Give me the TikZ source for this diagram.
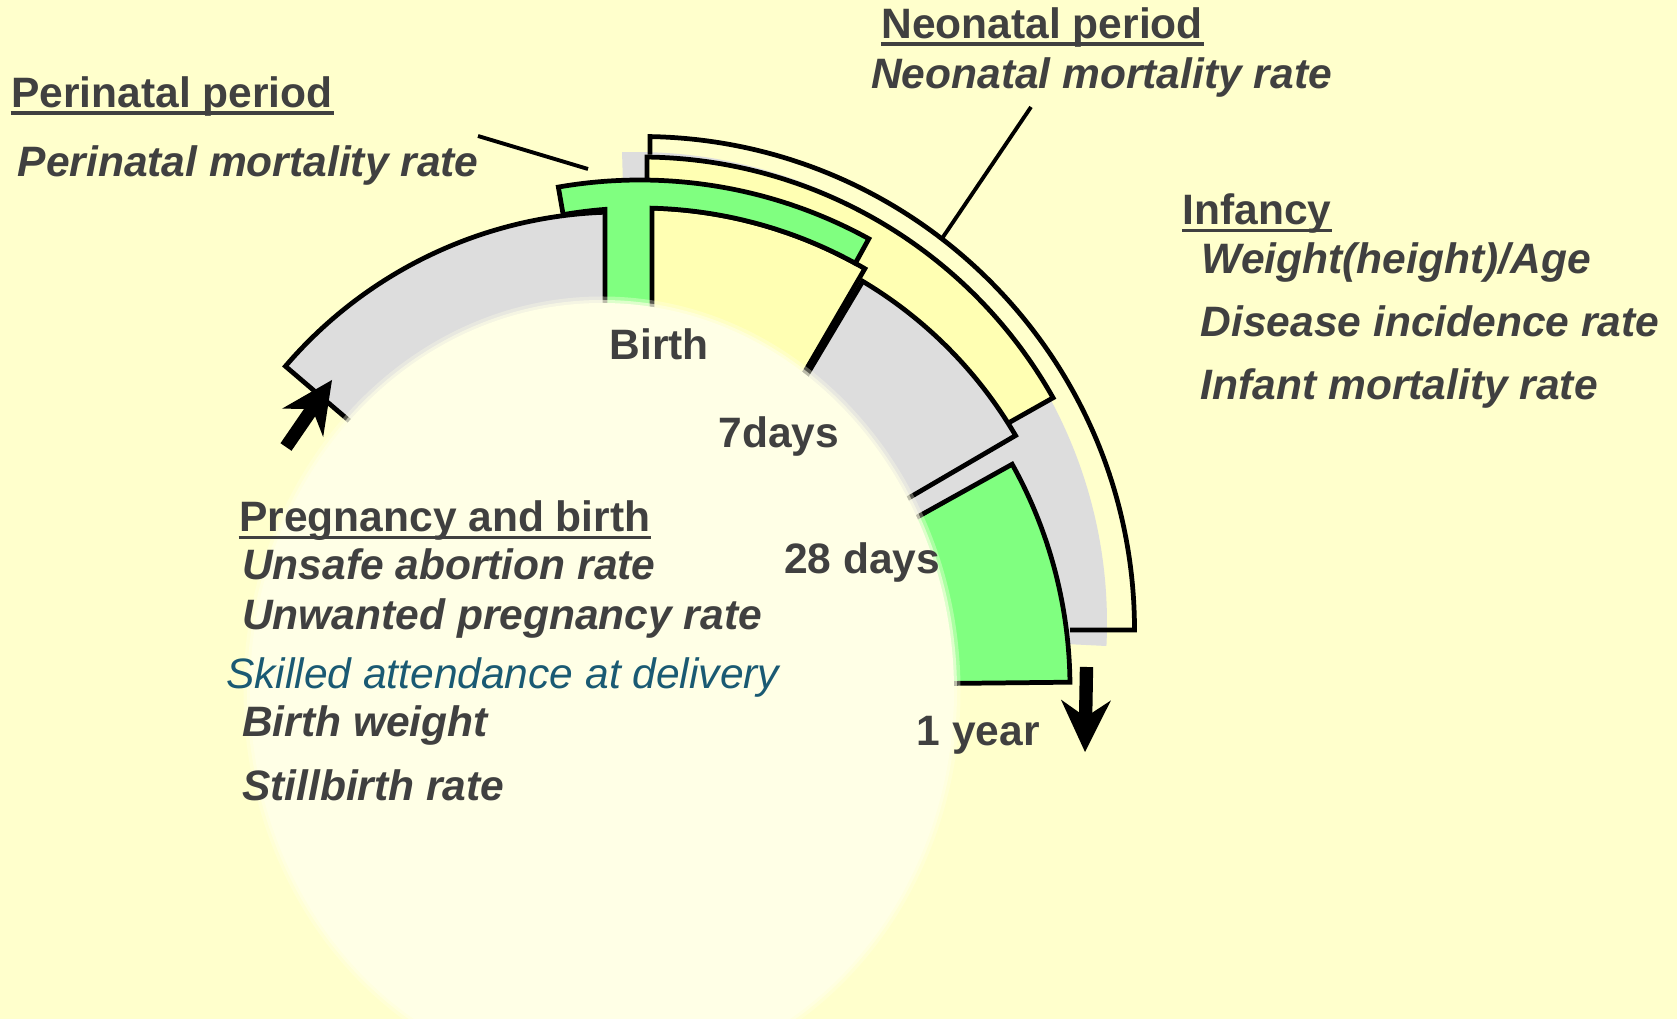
\documentclass[tikz,border=0pt]{standalone}
\usepackage{fontspec}
\setmainfont{Liberation Sans}
\usetikzlibrary{calc,arrows.meta}
\definecolor{bgyellow}{HTML}{FFFFCC}
\definecolor{paleyellow}{HTML}{FFFFE6}
\definecolor{ringgray}{HTML}{DDDDDD}
\definecolor{ringgreen}{HTML}{80FF80}
\definecolor{ringyellow}{HTML}{FFFFB3}
\definecolor{txtgray}{HTML}{404040}
\definecolor{skillteal}{HTML}{1A5A73}
\tikzset{
    lab/.style={
        font=\fontsize{12.1}{14}\selectfont,
        text=txtgray, inner sep=0pt, anchor=base west
    },
    head/.style={lab, font=\fontsize{12.1}{14}\selectfont\bfseries},
    rate/.style={lab, font=\fontsize{12.1}{14}\selectfont\bfseries\itshape},
    skill/.style={lab, font=\fontsize{12.1}{14}\selectfont\itshape, text=skillteal},
    seg/.style={draw=black, line width=1.35pt},
    uline/.style={txtgray, line width=0.95pt},
    pointer/.style={black, line width=1.1pt},
    bigarrow/.style={black, line width=3.8pt,
        -{Stealth[length=5.2mm, width=5.0mm, inset=1.7mm, line width=0pt]}}
}

\begin{document}
\begin{tikzpicture}[line join=miter]

% --- geometry ---
    \coordinate (O)  at (6.40,3.64); % centre of birth / 7-28 days segments
    \coordinate (Op) at (6.20,3.67); % centre of pregnancy segment
    \coordinate (Og) at (6.12,3.32); % centre of 28 days - 1 year segment
    \coordinate (Oo) at (6.41,3.89); % centre of outer brackets
    \coordinate (Ob) at (6.36,3.96); % centre of grey backing band

% background
    \useasboundingbox (0,0) rectangle (16.77,10.19);
    \fill[bgyellow] (0,0) rectangle (16.77,10.19);

% grey backing band (no outline)
    \fill[ringgray] ($(Ob)+(-2.8:2.6)$) -- ($(Ob)+(-2.8:4.71)$)
        arc[start angle=-2.8, end angle=91.7, radius=4.71]
        -- ($(Ob)+(91.7:2.6)$) arc[start angle=91.7, end angle=-2.8, radius=2.6] -- cycle;

% infancy bracket
    \draw[seg] ($(Oo)+(0:4.29)$) -- ($(Oo)+(0:4.935)$)
        arc[start angle=0, end angle=88.96, radius=4.935] -- ++(0,-0.18);

% neonatal band
    \fill[ringyellow] ($(Oo)+(29.4:3.9)$) -- ($(Oo)+(29.4:4.73)$)
        arc[start angle=29.4, end angle=89.27, radius=4.73]
        -- ($(Oo)+(89.27:3.9)$) arc[start angle=89.27, end angle=29.4, radius=3.9] -- cycle;
    \draw[seg] ($(Oo)+(29.4:4.22)$) -- ($(Oo)+(29.4:4.73)$)
        arc[start angle=29.4, end angle=89.27, radius=4.73] -- ++(0,-0.23);

% pregnancy segment
    \draw[seg, fill=ringgray] ($(Op)+(90:2.6)$) -- ($(Op)+(90:4.40)$)
        arc[start angle=90, end angle=139.5, radius=4.40]
        -- ($(Op)+(139.5:2.6)$) arc[start angle=139.5, end angle=90, radius=2.6] -- cycle;

% birth to 7 days
    \draw[seg, fill=ringyellow] ($(O)+(59.8:2.6)$) -- ($(O)+(59.8:4.47)$)
        arc[start angle=59.8, end angle=90, radius=4.47]
        -- ($(O)+(90:2.6)$) arc[start angle=90, end angle=59.8, radius=2.6] -- cycle;

% 7 to 28 days
    \draw[seg, fill=ringgray] ($(O)+(30.3:2.6)$) -- ($(O)+(30.3:4.35)$)
        arc[start angle=30.3, end angle=59.2, radius=4.35]
        -- ($(O)+(59.2:2.6)$) arc[start angle=59.2, end angle=30.3, radius=2.6] -- cycle;

% perinatal T (birth stem + bar)
    \draw[seg, fill=ringgreen] ($(O)+(99.9:4.47)$)
        arc[start angle=99.9, end angle=94.49, radius=4.47]
        -- (6.05,2.2) -- (6.52,2.2) -- ($(O)+(88.46:4.47)$)
        arc[start angle=88.46, end angle=61.2, radius=4.47]
        -- ($(O)+(61.2:4.75)$) arc[start angle=61.2, end angle=99.9, radius=4.75] -- cycle;

% 28 days to 1 year
    \draw[seg, fill=ringgreen] ($(Og)+(0.6:2.9)$) -- ($(Og)+(0.6:4.58)$)
        arc[start angle=0.6, end angle=29.1, radius=4.58]
        -- ($(Og)+(29.1:2.9)$) arc[start angle=29.1, end angle=0.6, radius=2.9] -- cycle;

% pale centre
    \begin{scope}
        \clip (0,0) rectangle (16.77,10.19);
        \fill[paleyellow, opacity=0.35] (6.02,3.28) ellipse [x radius=3.585, y radius=3.945];
        \fill[paleyellow, opacity=0.6] (6.02,3.28) ellipse [x radius=3.55, y radius=3.91];
        \fill[paleyellow] (6.02,3.28) ellipse [x radius=3.52, y radius=3.88];
    \end{scope}

% arrows
    \coordinate (in-tail)  at (2.86,5.72);
    \coordinate (in-tip)   at (3.32,6.39);
    \coordinate (out-tail) at (10.865,3.52);
    \coordinate (out-tip)  at (10.85,2.67);
    \draw[bigarrow] (in-tail) -- (in-tip);
    \draw[bigarrow] (out-tail) -- (out-tip);

% pointer lines
    \coordinate (peri-from) at (4.78,8.83);
    \coordinate (peri-to)   at (5.88,8.50);
    \coordinate (neo-from)  at (10.31,9.12);
    \coordinate (neo-to)    at (9.41,7.79);
    \draw[pointer] (peri-from) -- (peri-to);
    \draw[pointer] (neo-from) -- (neo-to);

% perinatal labels
    \node[head] (peri-head) at (0.107,9.117) {Perinatal period};
    \node[rate] (peri-rate) at (0.17,8.423) {Perinatal mortality rate};

% neonatal labels
    \node[head] (neo-head) at (8.808,9.807) {Neonatal period};
    \node[rate] (neo-rate) at (8.704,9.307) {Neonatal mortality rate};

% infancy labels
    \node[head] (inf-head)    at (11.82,7.94) {Infancy};
    \node[rate] (inf-weight)  at (12.01,7.457) {Weight(height)/Age};
    \node[rate] (inf-disease) at (12.00,6.823) {Disease incidence rate};
    \node[rate] (inf-mort)    at (12.00,6.19) {Infant mortality rate};

% pregnancy labels
    \node[head]  (preg-head)     at (2.386,4.873) {Pregnancy and birth};
    \node[rate]  (preg-abort)    at (2.414,4.39) {Unsafe abortion rate};
    \node[rate]  (preg-unwanted) at (2.414,3.89) {Unwanted pregnancy rate};
    \node[skill] (preg-skilled)  at (2.254,3.307) {Skilled attendance at delivery};
    \node[rate]  (preg-weight)   at (2.414,2.823) {Birth weight};
    \node[rate]  (preg-still)    at (2.414,2.18) {Stillbirth rate};

% time marks
    \node[head] (mark-birth) at (6.09,6.59) {Birth};
    \node[head] (mark-7)     at (7.18,5.71) {7days};
    \node[head] (mark-28)    at (7.833,4.45) {28 days};
    \node[head] (mark-year)  at (9.16,2.73) {1 year};

% underlines
    \foreach \n in {peri-head,neo-head,inf-head,preg-head}
        \draw[uline] ([yshift=-0.058cm]\n.base west) -- ([yshift=-0.058cm]\n.base east);

\end{tikzpicture}
\end{document}
